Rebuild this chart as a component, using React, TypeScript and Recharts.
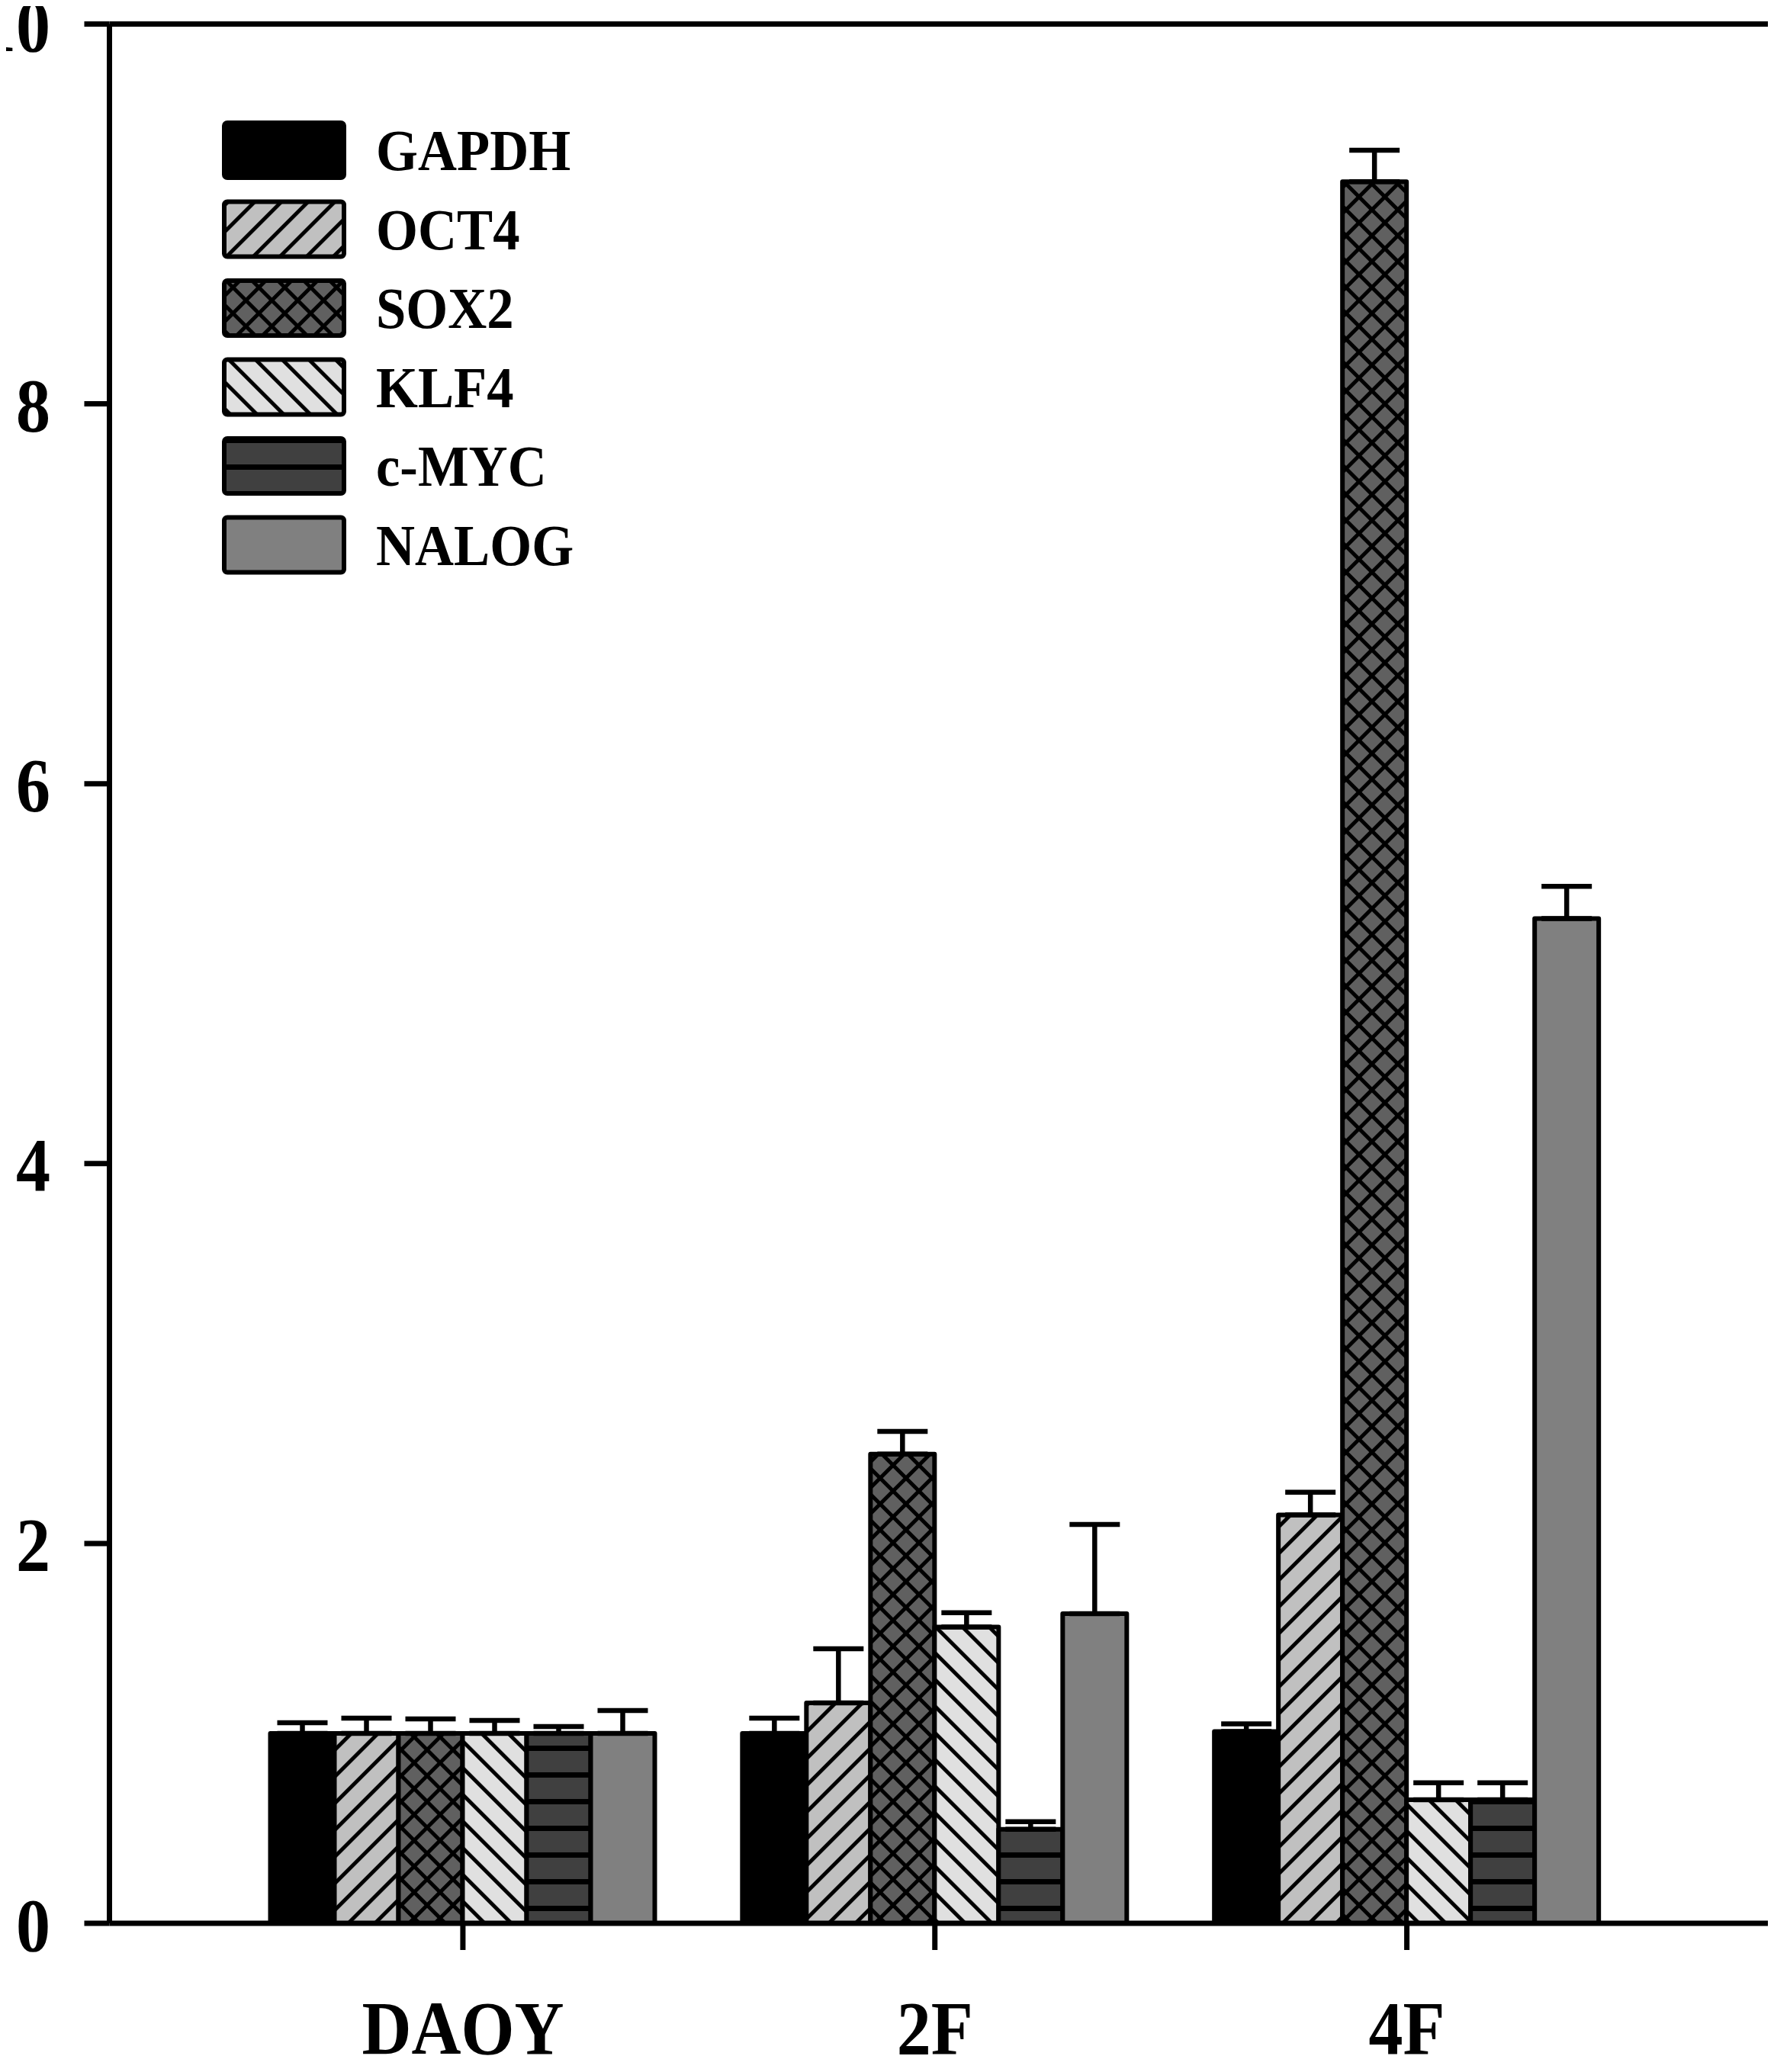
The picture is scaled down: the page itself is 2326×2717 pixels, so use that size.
import React from "react";
import { BarChart, Bar, XAxis, YAxis, ErrorBar, ReferenceLine } from "recharts";

const CATEGORIES = ["DAOY", "2F", "4F"];
const GENES = ["GAPDH", "OCT4", "SOX2", "KLF4", "c-MYC", "NALOG"];
const Y_TICKS = [0, 2, 4, 6, 8, 10];

// relative expression per category (DAOY, 2F, 4F)
const GAPDH = [1.0, 1.0, 1.01];
const OCT4 = [1.0, 1.16, 2.15];
const SOX2 = [1.0, 2.47, 9.17];
const KLF4 = [1.0, 1.56, 0.65];
const CMYC = [1.0, 0.495, 0.65];
const NALOG = [1.0, 1.63, 5.29];

// upper error (SD)
const GAPDH_ERR = [0.056, 0.08, 0.04];
const OCT4_ERR = [0.08, 0.285, 0.12];
const SOX2_ERR = [0.076, 0.12, 0.165];
const KLF4_ERR = [0.068, 0.075, 0.09];
const CMYC_ERR = [0.036, 0.04, 0.09];
const NALOG_ERR = [0.12, 0.47, 0.17];

const SERIES = [
  { key: "GAPDH", values: GAPDH, err: GAPDH_ERR, fill: "#000000" },
  { key: "OCT4", values: OCT4, err: OCT4_ERR, fill: "url(#p-oct4)" },
  { key: "SOX2", values: SOX2, err: SOX2_ERR, fill: "url(#p-sox2)" },
  { key: "KLF4", values: KLF4, err: KLF4_ERR, fill: "url(#p-klf4)" },
  { key: "c-MYC", values: CMYC, err: CMYC_ERR, fill: "url(#p-cmyc)" },
  { key: "NALOG", values: NALOG, err: NALOG_ERR, fill: "#808080" },
];

const data = CATEGORIES.map((name, i) => {
  const row: any = { name };
  SERIES.forEach((s) => {
    row[s.key] = s.values[i];
    row[s.key + "_err"] = [0, s.err[i]];
  });
  return row;
});

const FONT = '"Liberation Serif", "Times New Roman", serif';

function Patterns({ prefix }: { prefix: string }) {
  return (
    <defs>
      <pattern id={prefix + "oct4"} patternUnits="userSpaceOnUse" width={24.75} height={24.75} patternTransform="rotate(45)">
        <rect width={24.75} height={24.75} fill="#c0c0c0" />
        <rect x={0} width={5} height={24.75} fill="#000" />
      </pattern>
      <pattern id={prefix + "klf4"} patternUnits="userSpaceOnUse" width={24.75} height={24.75} patternTransform="rotate(-45)">
        <rect width={24.75} height={24.75} fill="#e0e0e0" />
        <rect x={0} width={5} height={24.75} fill="#000" />
      </pattern>
      <pattern id={prefix + "sox2"} patternUnits="userSpaceOnUse" width={24} height={24} patternTransform="rotate(45)">
        <rect width={24} height={24} fill="#606060" />
        <rect x={0} width={5} height={24} fill="#000" />
        <rect y={0} width={24} height={5} fill="#000" />
      </pattern>
      <pattern id={prefix + "cmyc"} patternUnits="userSpaceOnUse" width={35} height={35}>
        <rect width={35} height={35} fill="#404040" />
        <rect y={14} width={35} height={7} fill="#000" />
      </pattern>
    </defs>
  );
}

// the source figure's lettering is a bit narrower than Times at the same height
const SQUEEZE = 0.9;

const XTick = (props: any) => {
  const { x, y, payload } = props;
  return (
    <g transform={`translate(${x},${y})`}>
      <text transform={`scale(${SQUEEZE},1)`} textAnchor="middle" dy="0.71em" fontSize={100} fontWeight="bold" fontFamily={FONT} fill="#000">
        {payload.value}
      </text>
    </g>
  );
};

const YTick = (props: any) => {
  const { x, y, payload } = props;
  return (
    <g transform={`translate(${x},${y})`}>
      <text transform={`scale(${SQUEEZE},1)`} textAnchor="end" dy="0.355em" fontSize={100} fontWeight="bold" fontFamily={FONT} fill="#000">
        {payload.value}
      </text>
    </g>
  );
};

function ChartLegend() {
  const fills = ["#000000", "url(#lg-oct4)", "url(#lg-sox2)", "url(#lg-klf4)", "url(#lg-cmyc)", "#808080"];
  return (
    <svg width={900} height={800} style={{ position: "absolute", left: 0, top: 0 }}>
      <Patterns prefix="lg-" />
      {GENES.map((g, i) => {
        const y = 161 + i * 103.5;
        return (
          <g key={g}>
            <rect x={294} y={y} width={157} height={72} rx={4} fill={fills[i]} stroke="#000" strokeWidth={6} />
            <g transform={`translate(493,${y + 62})`}>
              <text transform="scale(0.93,1)" fontFamily={FONT} fontWeight="bold" fontSize={76} fill="#000">
                {g}
              </text>
            </g>
          </g>
        );
      })}
    </svg>
  );
}

export default function App() {
  return (
    <div style={{ position: "relative", width: 2326, height: 2717, marginLeft: -8, marginTop: -8, background: "#fff" }}>
      <BarChart
        width={2326}
        height={2717}
        data={data}
        margin={{ top: 31.5, right: 4, bottom: 0, left: 0 }}
        barGap={0}
        barSize={84}
      >
        <Patterns prefix="p-" />
        <XAxis
          dataKey="name"
          padding={{ left: 154, right: 168 }}
          height={195}
          tickSize={35}
          tickMargin={65}
          axisLine={{ stroke: "#000", strokeWidth: 7 }}
          tickLine={{ stroke: "#000", strokeWidth: 7 }}
          tick={<XTick />}
        />
        <YAxis
          domain={[0, 10]}
          ticks={Y_TICKS}
          width={143.5}
          tickSize={33}
          tickMargin={44.5}
          axisLine={{ stroke: "#000", strokeWidth: 7 }}
          tickLine={{ stroke: "#000", strokeWidth: 7 }}
          tick={<YTick />}
        />
        <YAxis
          yAxisId="right"
          orientation="right"
          width={0}
          domain={[0, 10]}
          tick={false}
          tickLine={false}
          axisLine={{ stroke: "#000", strokeWidth: 7 }}
        />
        <ReferenceLine y={10} stroke="#000" strokeWidth={7} />
        {SERIES.map((s) => (
          <Bar
            key={s.key}
            dataKey={s.key}
            fill={s.fill}
            stroke="#000"
            strokeWidth={6}
            strokeLinejoin="round"
            isAnimationActive={false}
          >
            <ErrorBar dataKey={s.key + "_err"} direction="y" width={33} stroke="#000" strokeWidth={6.5} />
          </Bar>
        ))}
      </BarChart>
      <ChartLegend />
    </div>
  );
}
